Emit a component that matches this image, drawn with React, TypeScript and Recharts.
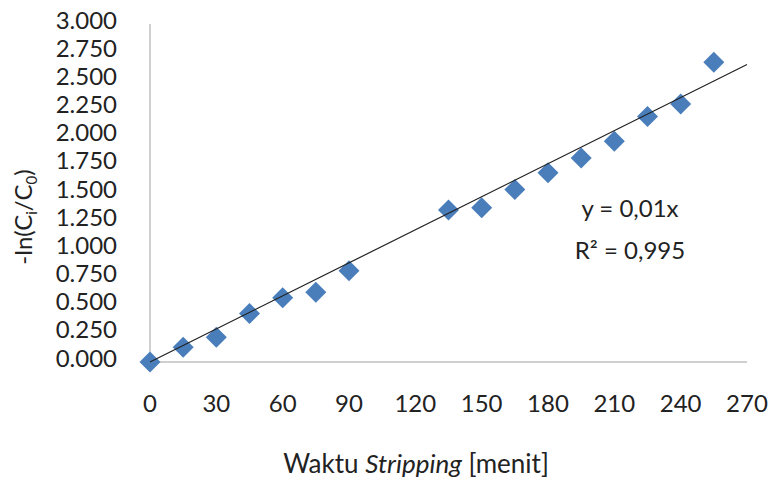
import React from 'react';
import { ScatterChart, Scatter, XAxis, YAxis } from 'recharts';

// waktu stripping (menit) vs -ln(Ci/C0)
const waktu = [0, 15, 30, 45, 60, 75, 90, 135, 150, 165, 180, 195, 210, 225, 240, 255];
const lnRatio = [0, 0.13, 0.22, 0.43, 0.57, 0.62, 0.81, 1.35, 1.37, 1.53, 1.68, 1.81, 1.96, 2.18, 2.29, 2.66];

// linear trendline endpoints (through origin)
const trendX = [0, 270];
const trendY = [0, 2.64];

const xTicks = [0, 30, 60, 90, 120, 150, 180, 210, 240, 270];
const yTicks = [0, 0.25, 0.5, 0.75, 1, 1.25, 1.5, 1.75, 2, 2.25, 2.5, 2.75, 3];

const points = waktu.map((x, i) => ({ x, y: lnRatio[i] }));
const trend = trendX.map((x, i) => ({ x, y: trendY[i] }));

const FONT = 'Lato, "Open Sans", sans-serif';
const BLUE = '#4a7ebb';

const Diamond = (props: any) => {
  const { cx, cy } = props;
  const r = 10.5;
  return (
    <polygon
      points={`${cx},${cy - r} ${cx + r},${cy} ${cx},${cy + r} ${cx - r},${cy}`}
      fill={BLUE}
    />
  );
};

const YTick = (props: any) => {
  const { x, y, payload } = props;
  return (
    <text x={x} y={y - 4} dy="0.355em" textAnchor="end" fill="#222" fontSize={24} fontFamily={FONT}>
      {Number(payload.value).toFixed(3)}
    </text>
  );
};

const XTick = (props: any) => {
  const { x, y, payload } = props;
  return (
    <text x={x} y={y} dy="0.71em" textAnchor="middle" fill="#222" fontSize={24} fontFamily={FONT}>
      {payload.value}
    </text>
  );
};

const textStyle: React.CSSProperties = {
  position: 'absolute',
  fontFamily: FONT,
  fontSize: 24,
  color: '#222',
  whiteSpace: 'nowrap',
  lineHeight: 1,
};

export default function App() {
  return (
    <div style={{ position: 'absolute', left: 0, top: 0, width: 771, height: 481, background: '#fff' }}>
      <ScatterChart width={771} height={481} margin={{ top: 24, right: 24, bottom: 59, left: 0 }}>
        <XAxis
          type="number"
          dataKey="x"
          domain={[0, 270]}
          ticks={xTicks}
          height={60}
          tickSize={0}
          tickMargin={33}
          tick={<XTick />}
          axisLine={{ stroke: '#a0a0a0' }}
          tickLine={false}
        />
        <YAxis
          type="number"
          dataKey="y"
          domain={[0, 3]}
          ticks={yTicks}
          width={150}
          tickSize={0}
          tickMargin={33}
          tick={<YTick />}
          axisLine={{ stroke: '#a0a0a0' }}
          tickLine={false}
        />
        <Scatter data={points} shape={<Diamond />} isAnimationActive={false} />
        <Scatter
          data={trend}
          line={{ stroke: '#222', strokeWidth: 1.2 }}
          shape={() => null}
          isAnimationActive={false}
        />
      </ScatterChart>

      <div style={{ ...textStyle, left: 630, top: 208, transform: 'translate(-50%, -50%)' }}>y = 0,01x</div>
      <div style={{ ...textStyle, left: 630, top: 250, transform: 'translate(-50%, -50%)' }}>R² = 0,995</div>
      <div style={{ ...textStyle, fontSize: 26, left: 416, top: 463, transform: 'translate(-50%, -50%)' }}>
        Waktu <i>Stripping</i> [menit]
      </div>
      <div
        style={{
          ...textStyle,
          left: 25,
          top: 217,
          transform: 'translate(-50%, -50%) rotate(-90deg)',
        }}
      >
        -ln(C<sub style={{ fontSize: 15 }}>i</sub>/C<sub style={{ fontSize: 15 }}>0</sub>)
      </div>
    </div>
  );
}
